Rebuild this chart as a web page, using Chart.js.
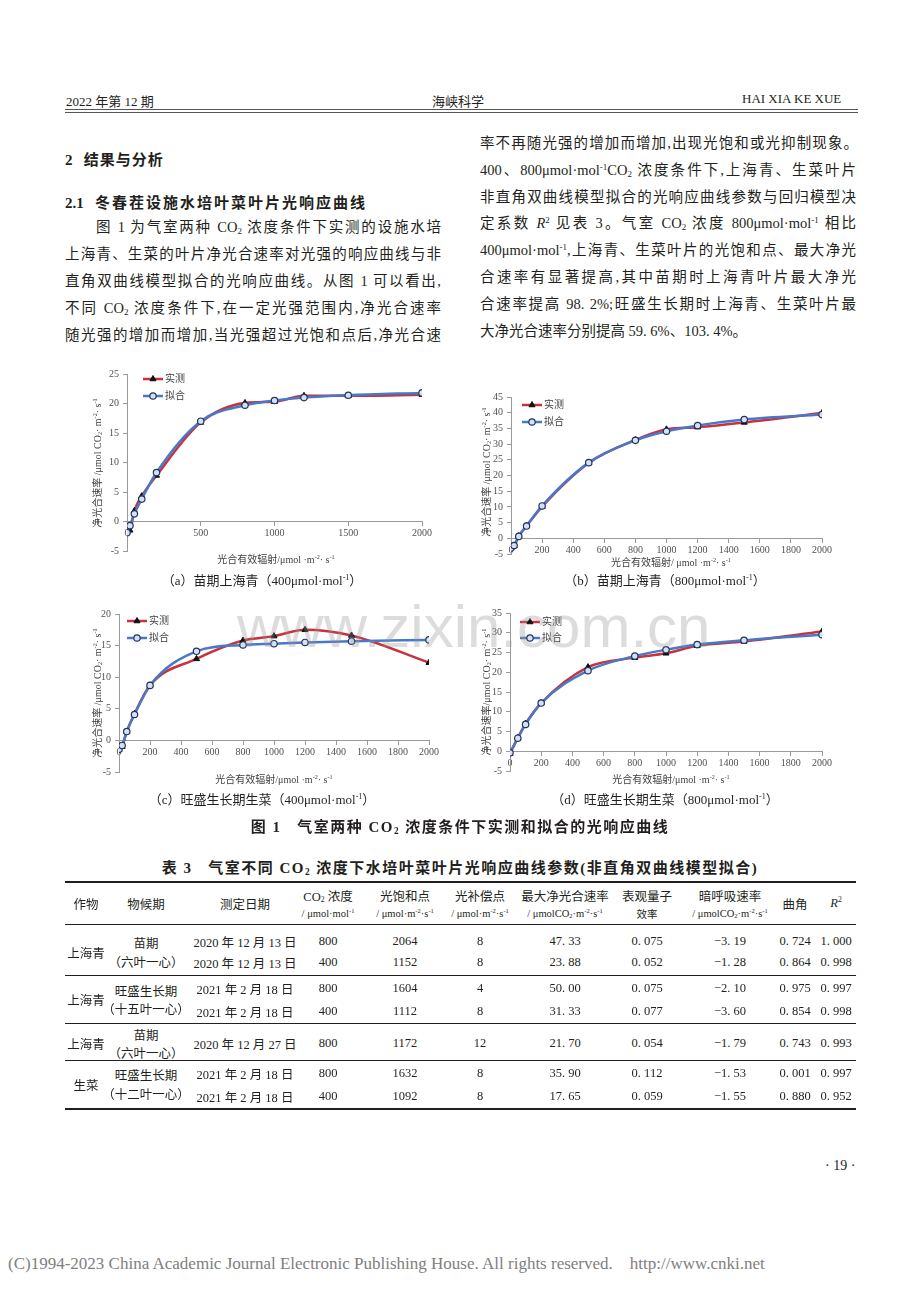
<!DOCTYPE html>
<html>
<head>
<meta charset="utf-8">
<script src="https://cdn.jsdelivr.net/npm/chart.js@4.4.0/dist/chart.umd.min.js"></script>
<style>
body { margin:0; width:920px; height:1302px; position:relative; background:#fff; overflow:hidden;
  font-family:"Liberation Serif","Noto Sans CJK SC",serif; color:#231f20; }
.t { position:absolute; white-space:nowrap; }
.ln { position:absolute; height:22px; line-height:22px; font-size:14.5px; text-align:justify; text-align-last:justify; }
.c { position:absolute; white-space:nowrap; transform:translate(-50%,-50%); }
sub { font-size:0.62em; vertical-align:-0.25em; line-height:0; }
sup { font-size:0.62em; vertical-align:0.55em; line-height:0; }
.box { position:absolute; }
.ax { position:absolute; white-space:nowrap; font-size:10px; color:#404040; transform:translate(-50%,-50%); }
.ay { position:absolute; white-space:nowrap; font-size:10px; color:#404040; transform:translate(-50%,-50%) rotate(-90deg); }
.cap { position:absolute; white-space:nowrap; font-size:13px; transform:translate(-50%,-50%); }
.rule { position:absolute; left:65px; width:791px; background:#231f20; }
.th { position:absolute; white-space:nowrap; font-size:11.5px; transform:translate(-50%,-50%); }
.td { position:absolute; white-space:nowrap; font-size:12.5px; transform:translate(-50%,-50%); }
#wm { position:absolute; left:237px; top:597px; font-family:"Liberation Sans",sans-serif; font-size:60px; line-height:60px;
  color:rgba(150,150,150,0.33); white-space:nowrap; pointer-events:none; }
</style>
</head>
<body>

<!-- page header -->
<div class="t" style="left:66px;top:91px;font-size:13px">2022 年第 12 期</div>
<div class="t" style="left:432px;top:91px;font-size:13px">海峡科学</div>
<div class="t" style="left:742px;top:91px;font-size:13px">HAI XIA KE XUE</div>
<div style="position:absolute;left:65px;top:109px;width:793px;height:0;border-top:1.5px solid #555;border-bottom:1px solid #555;padding-top:1.5px"></div>

<!-- left column -->
<div class="t" style="left:65px;top:148px;font-size:15px;font-weight:bold">2&nbsp;&nbsp;&nbsp;<span style="letter-spacing:1px">结果与分析</span></div>
<div class="t" style="left:65px;top:191px;font-size:15px;font-weight:bold">2.1&nbsp;&nbsp;&nbsp;<span style="letter-spacing:2px">冬春茬设施水培叶菜叶片光响应曲线</span></div>
<div class="ln" style="left:96px;top:216px;width:345px">图 1 为气室两种 CO<sub>2</sub> 浓度条件下实测的设施水培</div>
<div class="ln" style="left:65px;top:243px;width:376px">上海青、生菜的叶片净光合速率对光强的响应曲线与非</div>
<div class="ln" style="left:65px;top:270px;width:376px">直角双曲线模型拟合的光响应曲线。从图 1 可以看出,</div>
<div class="ln" style="left:65px;top:297px;width:376px">不同 CO<sub>2</sub> 浓度条件下,在一定光强范围内,净光合速率</div>
<div class="ln" style="left:65px;top:324px;width:376px">随光强的增加而增加,当光强超过光饱和点后,净光合速</div>

<!-- right column -->
<div class="ln" style="left:480px;top:132px;width:378px">率不再随光强的增加而增加,出现光饱和或光抑制现象。</div>
<div class="ln" style="left:480px;top:159px;width:376px">400、800μmol·mol<sup>-1</sup>CO<sub>2</sub> 浓度条件下,上海青、生菜叶片</div>
<div class="ln" style="left:480px;top:186px;width:376px">非直角双曲线模型拟合的光响应曲线参数与回归模型决</div>
<div class="ln" style="left:480px;top:212px;width:376px">定系数 <i>R</i><sup>2</sup> 见表 3。气室 CO<sub>2</sub> 浓度 800μmol·mol<sup>-1</sup> 相比</div>
<div class="ln" style="left:480px;top:239px;width:376px">400μmol·mol<sup>-1</sup>,上海青、生菜叶片的光饱和点、最大净光</div>
<div class="ln" style="left:480px;top:266px;width:376px">合速率有显著提高,其中苗期时上海青叶片最大净光</div>
<div class="ln" style="left:480px;top:293px;width:376px">合速率提高 98. 2%;旺盛生长期时上海青、生菜叶片最</div>
<div class="t" style="left:480px;top:320px;height:22px;line-height:22px;font-size:14.5px">大净光合速率分别提高 59. 6%、103. 4%。</div>

<!-- charts -->
<div class="box" style="left:86px;top:362px;width:356px;height:200px"><canvas id="chartA"></canvas></div>
<div class="box" style="left:475px;top:385px;width:367px;height:180px"><canvas id="chartB"></canvas></div>
<div class="box" style="left:86px;top:602px;width:363px;height:181px"><canvas id="chartC"></canvas></div>
<div class="box" style="left:475px;top:601px;width:367px;height:181px"><canvas id="chartD"></canvas></div>

<div class="ay" style="left:96px;top:463px">净光合速率 /μmol CO<sub>2</sub>· m<sup>-2</sup>· s<sup>-1</sup></div>
<div class="ay" style="left:485px;top:472px">净光合速率 /μmol CO<sub>2</sub>· m<sup>-2</sup>· s<sup>-1</sup></div>
<div class="ay" style="left:96px;top:693px">净光合速率 /μmol CO<sub>2</sub>· m<sup>-2</sup>· s<sup>-1</sup></div>
<div class="ay" style="left:485px;top:692px">净光合速率/μmol CO<sub>2</sub>· m<sup>-2</sup>· s<sup>-1</sup></div>

<div class="ax" style="left:276px;top:558px">光合有效辐射/μmol ·m<sup>-2</sup>· s<sup>-1</sup></div>
<div class="ax" style="left:671px;top:561px">光合有效辐射/ μmol ·m<sup>-2</sup>· s<sup>-1</sup></div>
<div class="ax" style="left:274px;top:778px">光合有效辐射/μmol ·m<sup>-2</sup>· s<sup>-1</sup></div>
<div class="ax" style="left:671px;top:778px">光合有效辐射/μmol ·m<sup>-2</sup>· s<sup>-1</sup></div>

<div class="cap" style="left:262px;top:579px">（a）苗期上海青（400μmol·mol<sup>-1</sup>）</div>
<div class="cap" style="left:665px;top:579px">（b）苗期上海青（800μmol·mol<sup>-1</sup>）</div>
<div class="cap" style="left:262px;top:798px">（c）旺盛生长期生菜（400μmol·mol<sup>-1</sup>）</div>
<div class="cap" style="left:665px;top:798px">（d）旺盛生长期生菜（800μmol·mol<sup>-1</sup>）</div>
<div class="cap" style="left:460px;top:825px;font-size:15px;font-weight:bold;letter-spacing:1.5px">图 1&nbsp;&nbsp;&nbsp;气室两种 CO<sub>2</sub> 浓度条件下实测和拟合的光响应曲线</div>

<div id="wm">www.zixin.com.cn</div>

<!-- table -->
<div class="cap" style="left:460px;top:866px;font-size:15px;font-weight:bold;letter-spacing:1.5px">表 3&nbsp;&nbsp;&nbsp;气室不同 CO<sub>2</sub> 浓度下水培叶菜叶片光响应曲线参数(非直角双曲线模型拟合)</div>
<div id="table"></div>

<div class="t" style="left:825px;top:1158px;font-size:14px">· 19 ·</div>
<div class="t" style="left:8px;top:1254px;font-size:17px;color:#808080">(C)1994-2023 China Academic Journal Electronic Publishing House. All rights reserved.&nbsp;&nbsp;&nbsp;&nbsp;http://www.cnki.net</div>

<script>
// PAR steps of the light response curve
const parA = [0, 20, 50, 100, 200, 500, 800, 1000, 1200, 1500, 2000];
const measuredA = [-1.8, -1.5, 1.8, 4.3, 7.8, 16.8, 20.1, 20.3, 21.3, 21.3, 21.5];
const fittedA = [-1.9, -0.7, 1.3, 3.8, 8.3, 17.0, 19.7, 20.5, 21.0, 21.4, 21.8];

const parB = [0, 20, 50, 100, 200, 500, 800, 1000, 1200, 1500, 2000];
const measuredB = [-3.0, -2.4, 0.7, 4.0, 10.1, 24.0, 31.3, 34.7, 35.4, 36.9, 39.9];
const fittedB = [-3.1, -2.3, 0.6, 3.9, 10.3, 24.1, 31.2, 34.1, 35.9, 37.8, 39.4];

const parC = [0, 20, 50, 100, 200, 500, 800, 1000, 1200, 1500, 2000];
const measuredC = [-1.5, -1.0, 1.4, 4.2, 8.7, 12.9, 15.8, 16.5, 17.5, 16.6, 12.3];
const fittedC = [-1.4, -0.8, 1.4, 4.1, 8.7, 14.1, 15.1, 15.3, 15.5, 15.7, 15.9];

const parD = [0, 50, 100, 200, 500, 800, 1000, 1200, 1500, 2000];
const measuredD = [-0.6, 3.4, 7.0, 12.2, 21.3, 23.7, 24.8, 26.7, 27.8, 30.3];
const fittedD = [-0.4, 3.3, 6.8, 12.2, 20.4, 24.1, 25.7, 27.0, 28.1, 29.5];

const seriesNames = ['实测', '拟合'];

const axisColor = '#9a9a9a';
const tickColor = '#505050';
const fontFam = '"Liberation Serif","Noto Sans CJK SC",serif';

// excel style legend: short line + marker + name
const excelLegend = {
	id: 'excelLegend',
	afterDraw(chart, args, opts) {
		const ctx = chart.ctx;
		const area = chart.chartArea;
		chart.data.datasets.forEach((ds, i) => {
			const x0 = area.left + opts.dx;
			const y = area.top + opts.dy + i * opts.gap;
			ctx.save();
			ctx.strokeStyle = ds.borderColor;
			ctx.lineWidth = ds.borderWidth;
			ctx.beginPath();
			ctx.moveTo(x0, y);
			ctx.lineTo(x0 + 20, y);
			ctx.stroke();
			ctx.fillStyle = ds.pointBackgroundColor;
			ctx.strokeStyle = ds.pointBorderColor;
			ctx.lineWidth = ds.pointBorderWidth;
			Chart.helpers.drawPoint(ctx, {pointStyle: ds.pointStyle, radius: ds.pointRadius, borderWidth: ds.pointBorderWidth, rotation: 0}, x0 + 10, y);
			ctx.fillStyle = '#404040';
			ctx.font = '10px ' + fontFam;
			ctx.textBaseline = 'middle';
			ctx.fillText(ds.label, x0 + 22, y);
			ctx.restore();
		});
	}
};

function pts(xs, ys) {
	return xs.map((x, i) => ({x: x, y: ys[i]}));
}

function makeChart(id, par, meas, fit, yMin, yMax, yStep, xStep, yw, pad, legend) {
	const measured = {
		label: seriesNames[0],
		data: pts(par, meas),
		borderColor: '#c8323c',
		borderWidth: 2.5,
		pointStyle: 'triangle',
		pointRadius: 3.5,
		pointBackgroundColor: '#111',
		pointBorderColor: '#111',
		pointBorderWidth: 1,
		cubicInterpolationMode: 'monotone',
		order: 1
	};
	const fitted = {
		label: seriesNames[1],
		data: pts(par, fit),
		borderColor: '#4a78c8',
		borderWidth: 2.5,
		pointStyle: 'circle',
		pointRadius: 3.2,
		pointBackgroundColor: '#d5e0f0',
		pointBorderColor: '#1f3560',
		pointBorderWidth: 1.2,
		cubicInterpolationMode: 'monotone',
		order: 0
	};
	return new Chart(document.getElementById(id), {
		type: 'line',
		data: {datasets: [measured, fitted]},
		options: {
			responsive: true,
			maintainAspectRatio: false,
			animation: false,
			events: [],
			layout: {padding: pad},
			plugins: {legend: {display: false}, tooltip: {enabled: false}, excelLegend: legend},
			scales: {
				x: {
					type: 'linear',
					position: {y: 0},
					min: 0, max: 2000,
					ticks: {stepSize: xStep, color: tickColor, font: {family: fontFam, size: 10}, padding: 2, maxRotation: 0, autoSkip: false,
						callback: (v) => String(v)},
					grid: {drawOnChartArea: false, tickLength: 4, color: axisColor},
					border: {color: axisColor}
				},
				y: {
					min: yMin, max: yMax,
					afterFit: (s) => { s.width = yw; },
					ticks: {stepSize: yStep, color: tickColor, font: {family: fontFam, size: 10}, padding: 4,
						callback: (v) => String(v)},
					grid: {drawOnChartArea: false, tickLength: 4, color: axisColor},
					border: {color: axisColor}
				}
			}
		},
		plugins: [excelLegend]
	});
}

makeChart('chartA', parA, measuredA, fittedA, -5, 25, 5, 500, 41, {top: 12, right: 20, bottom: 11, left: 0}, {dx: 16, dy: 5, gap: 17});
makeChart('chartB', parB, measuredB, fittedB, -5, 45, 5, 200, 36, {top: 12, right: 20, bottom: 11, left: 0}, {dx: 11, dy: 8, gap: 17});
makeChart('chartC', parC, measuredC, fittedC, -5, 20, 5, 200, 33, {top: 12, right: 20, bottom: 11, left: 0}, {dx: 8, dy: 7, gap: 17});
makeChart('chartD', parD, measuredD, fittedD, -5, 35, 5, 200, 35, {top: 12, right: 20, bottom: 11, left: 0}, {dx: 10, dy: 9, gap: 16});

// table 3
const colX = [86, 146, 245, 328, 405, 480, 565, 647, 730, 795, 836];
const headers = [
	['作物'], ['物候期'], ['测定日期'],
	['CO<sub>2</sub> 浓度', '/ μmol·mol<sup>-1</sup>'],
	['光饱和点', '/ μmol·m<sup>-2</sup>·s<sup>-1</sup>'],
	['光补偿点', '/ μmol·m<sup>-2</sup>·s<sup>-1</sup>'],
	['最大净光合速率', '/ μmolCO<sub>2</sub>·m<sup>-2</sup>·s<sup>-1</sup>'],
	['表观量子', '效率'],
	['暗呼吸速率', '/ μmolCO<sub>2</sub>·m<sup>-2</sup>·s<sup>-1</sup>'],
	['曲角'], ['<i>R</i><sup>2</sup>']
];
const groups = [
	{crop: '上海青', cropY: 952, stage: ['苗期', '（六叶一心）'], stageY: [942, 961], rowY: [941, 962], rows: [
		['2020 年 12 月 13 日', '800', '2064', '8', '47. 33', '0. 075', '−3. 19', '0. 724', '1. 000'],
		['2020 年 12 月 13 日', '400', '1152', '8', '23. 88', '0. 052', '−1. 28', '0. 864', '0. 998']]},
	{crop: '上海青', cropY: 999, stage: ['旺盛生长期', '（十五叶一心）'], stageY: [990, 1008], rowY: [988, 1011], rows: [
		['2021 年 2 月 18 日', '800', '1604', '4', '50. 00', '0. 075', '−2. 10', '0. 975', '0. 997'],
		['2021 年 2 月 18 日', '400', '1112', '8', '31. 33', '0. 077', '−3. 60', '0. 854', '0. 998']]},
	{crop: '上海青', cropY: 1043, stage: ['苗期', '（六叶一心）'], stageY: [1034, 1052], rowY: [1043], rows: [
		['2020 年 12 月 27 日', '800', '1172', '12', '21. 70', '0. 054', '−1. 79', '0. 743', '0. 993']]},
	{crop: '生菜', cropY: 1084, stage: ['旺盛生长期', '（十二叶一心）'], stageY: [1074, 1093], rowY: [1073, 1096], rows: [
		['2021 年 2 月 18 日', '800', '1632', '8', '35. 90', '0. 112', '−1. 53', '0. 001', '0. 997'],
		['2021 年 2 月 18 日', '400', '1092', '8', '17. 65', '0. 059', '−1. 55', '0. 880', '0. 952']]}
];
const rules = [[881, 2], [924, 1], [975, 1], [1023, 1], [1060, 1], [1108, 2]];

let html = '';
rules.forEach(r => { html += `<div class="rule" style="top:${r[0]}px;height:${r[1]}px"></div>`; });
headers.forEach((h, i) => {
	if (h.length === 1) {
		html += `<div class="th" style="left:${colX[i]}px;top:903px;font-size:12.5px">${h[0]}</div>`;
	} else {
		html += `<div class="th" style="left:${colX[i]}px;top:895px;font-size:12.5px">${h[0]}</div>`;
		html += `<div class="th" style="left:${colX[i]}px;top:913px;font-size:10.5px">${h[1]}</div>`;
	}
});
groups.forEach(g => {
	html += `<div class="td" style="left:${colX[0]}px;top:${g.cropY}px">${g.crop}</div>`;
	g.stage.forEach((s, k) => {
		html += `<div class="td" style="left:${colX[1]}px;top:${g.stageY[k]}px">${s}</div>`;
	});
	g.rows.forEach((row, r) => {
		row.forEach((v, c) => {
			html += `<div class="td" style="left:${colX[c + 2]}px;top:${g.rowY[r]}px">${v}</div>`;
		});
	});
});
document.getElementById('table').innerHTML = html;
</script>
</body>
</html>
